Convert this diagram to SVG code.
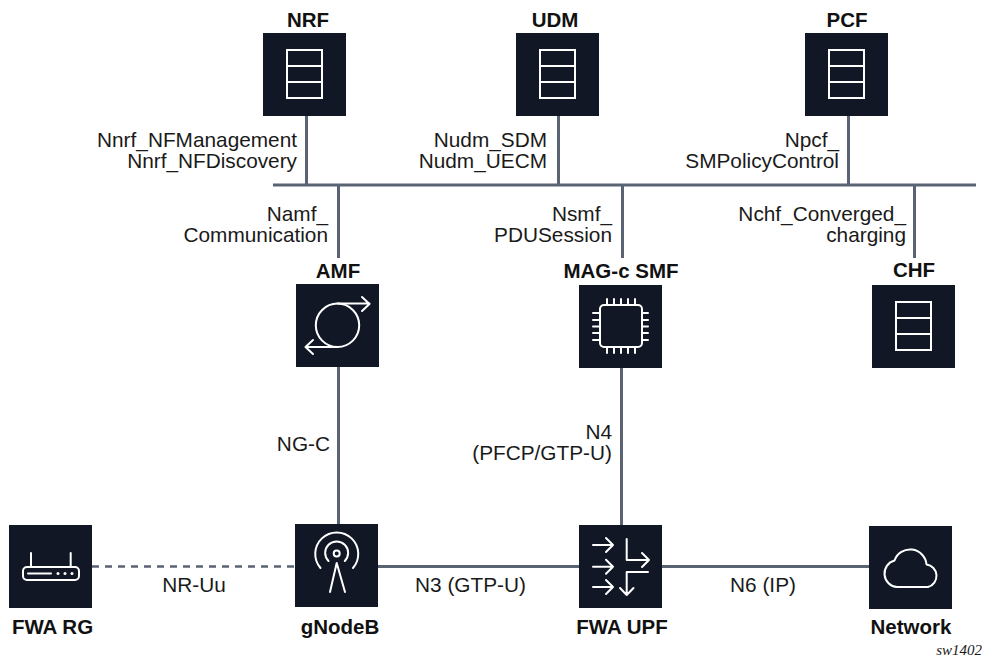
<svg xmlns="http://www.w3.org/2000/svg" width="982" height="660" viewBox="0 0 982 660">
<style>
.box{fill:#111725}
.ic{fill:none;stroke:#fff;stroke-width:2;stroke-linecap:round;stroke-linejoin:round}
.ln{fill:none;stroke:#5a6373;stroke-width:3}
text{font-family:"Liberation Sans",Arial,sans-serif;font-size:20.800px;fill:#1a1a1a}
.t{font-weight:bold;text-anchor:middle;font-size:20.500px;fill:#111}
.r{text-anchor:end}
.m{text-anchor:middle}
</style>
<defs>
<g id="tbl"><rect x="24" y="17" width="35" height="48" fill="none" stroke="#fff" stroke-width="2"/><path d="M24 33H59M24 49H59" fill="none" stroke="#fff" stroke-width="2"/></g>
</defs>
<rect width="982" height="660" fill="#fff"/>
<g id="connectors">
<path class="ln" d="M273 185H976M306.500 116V185M558.500 116V185M848.500 116V185M338.500 185V258M622.500 185V258M914.500 185V258M338.500 367V524M621.500 368V525M378 566.500H579M662 566.500H869"/>
<path class="ln" d="M92 566.500H295" stroke-dasharray="7 6" style="stroke-width:2.500"/>
</g>
<g id="nrf"><text class="t" x="308" y="26.500">NRF</text><g transform="translate(263 33)"><rect class="box" width="83" height="83"/><use href="#tbl"/></g></g>
<g id="udm"><text class="t" x="555" y="26.500">UDM</text><g transform="translate(516 33)"><rect class="box" width="83" height="83"/><use href="#tbl"/></g></g>
<g id="pcf"><text class="t" x="847" y="26.500">PCF</text><g transform="translate(805 33)"><rect class="box" width="83" height="83"/><use href="#tbl"/></g></g>
<g id="chf"><text class="t" x="914" y="277">CHF</text><g transform="translate(872 285)"><rect class="box" width="83" height="83"/><use href="#tbl"/></g></g>
<g id="amf"><text class="t" x="338" y="277.500">AMF</text><g transform="translate(296 284)"><rect class="box" width="83" height="83"/>
<circle class="ic" cx="41.500" cy="41.300" r="21.700"/><path class="ic" d="M41.500 19.600H73.500M66 13L73.500 20L66 27M41.500 63H9.500M17 56L9.500 63L17 70"/></g></g>
<g id="smf"><text class="t" x="621" y="278">MAG-c SMF</text><g transform="translate(579 285)"><rect class="box" width="83" height="83"/>
<rect class="ic" x="21" y="20" width="42" height="42" rx="4"/><path class="ic" d="M28 14V20M35 14V20M42 14V20M49 14V20M56 14V20M28 62V68M35 62V68M42 62V68M49 62V68M56 62V68M14 28H21M14 35H21M14 41.500H21M14 48H21M14 55H21M63 28H69M63 35H69M63 41.500H69M63 48H69M63 55H69"/></g></g>
<g id="rg"><g transform="translate(9 525)"><rect class="box" width="83" height="83"/>
<rect class="ic" x="14" y="42" width="56" height="13" rx="4"/><path class="ic" d="M22 28V42M61.700 28V42M19 48.500H42"/><circle cx="49" cy="48.500" r="1.500" fill="#fff"/><circle cx="56" cy="48.500" r="1.500" fill="#fff"/><circle cx="63" cy="48.500" r="1.500" fill="#fff"/></g><text class="t" x="52.500" y="634">FWA RG</text></g>
<g id="gnb"><g transform="translate(295 524)"><rect class="box" width="83" height="83"/>
<circle cx="41.700" cy="29.500" r="3" fill="none" stroke="#fff" stroke-width="2"/><path class="ic" d="M33.500 37A11.500 11.500 0 1 1 49.800 37M25.500 44A21.500 21.500 0 1 1 58 44M35 68L41.700 39L50 68"/></g><text class="t" x="340" y="634">gNodeB</text></g>
<g id="upf"><g transform="translate(579 525)"><rect class="box" width="83" height="83"/>
<path class="ic" d="M14 20H34M27 13L34 20L27 27M14 41.700H34M27 34.700L34 41.700L27 48.700M14 62H34M27 55L34 62L27 69M47.700 14V35H70M63 28L70 35L63 42M69 47H47.700V70M41 63L47.700 70L54.500 63"/></g><text class="t" x="622" y="634">FWA UPF</text></g>
<g id="net"><g transform="translate(869 526)"><rect class="box" width="83" height="83"/>
<path class="ic" d="M28 61A13.500 13.500 0 0 1 25.500 34.500A16.500 16.500 0 0 1 57.500 38.500A11.500 11.500 0 0 1 59 61Z"/></g><text class="t" x="911" y="634">Network</text></g>
<g id="labels">
<text class="r" x="297" y="146.500">Nnrf_NFManagement</text>
<text class="r" x="297" y="168">Nnrf_NFDiscovery</text>
<text class="r" x="547" y="146.500">Nudm_SDM</text>
<text class="r" x="547" y="168">Nudm_UECM</text>
<text class="r" x="839" y="146.500">Npcf_</text>
<text class="r" x="839" y="168">SMPolicyControl</text>
<text class="r" x="328" y="220.500">Namf_</text>
<text class="r" x="328" y="242">Communication</text>
<text class="r" x="612" y="220.500">Nsmf_</text>
<text class="r" x="612" y="242">PDUSession</text>
<text class="r" x="906" y="220.500">Nchf_Converged_</text>
<text class="r" x="906" y="242">charging</text>
<text class="r" x="330" y="451">NG-C</text>
<text class="r" x="612" y="438.500">N4</text>
<text class="r" x="612" y="460">(PFCP/GTP-U)</text>
<text class="m" x="194" y="592">NR-Uu</text>
<text class="m" x="470.500" y="592">N3 (GTP-U)</text>
<text class="m" x="763" y="592">N6 (IP)</text>
<text x="982" y="655" text-anchor="end" style="font-family:'Liberation Serif',serif;font-style:italic;font-size:15px">sw1402</text>
</g>
</svg>
